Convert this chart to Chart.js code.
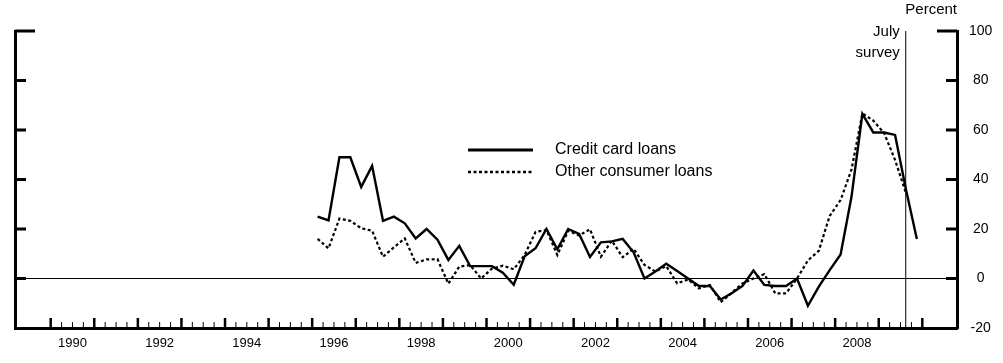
<!DOCTYPE html>
<html>
<head>
<meta charset="utf-8">
<script src="https://cdn.jsdelivr.net/npm/chart.js@4"></script>
<style>
  html, body { margin: 0; padding: 0; background: #fff; }
  canvas { display: block; }
</style>
</head>
<body>
<canvas id="loanChart" width="1003" height="363"></canvas>
<script>
// Survey results, quarterly from 1996:Q1 to 2009:Q4 (percent)
const years = [1996, 1997, 1998, 1999, 2000, 2001, 2002, 2003, 2004, 2005, 2006, 2007, 2008, 2009];

const creditCard = [
    25, 23.5, 49, 49,
    37, 45.5, 23.3, 25,
    22.3, 16.2, 20, 15.7,
    7.5, 13.2, 5, 5,
    5, 2.3, -2.5, 9,
    12.2, 20, 11.8, 20,
    18, 8.7, 14.6, 15,
    16, 10.6, 0, 2.8,
    6, 3, 0, -3,
    -3, -8.5, -6, -3,
    3.2, -2.6, -3, -3,
    0, -11, -3.3, 3.4,
    9.7, 33, 66.5, 59,
    59, 58, 36, 16
];

const otherConsumer = [
    16, 12.2, 24.2, 23.3,
    20.3, 19.3, 8.8, 12.6,
    16.2, 6.3, 7.7, 7.8,
    -2.1, 4.8, 5.4, 0,
    4, 5.2, 3.7, 9.5,
    18.8, 19.6, 9.5, 19.3,
    17.4, 19.9, 8.8, 15.3,
    8.6, 12, 5.5, 2.8,
    5, -2, -0.4, -4,
    -2.6, -9.6, -5.8, -2,
    0, 1.8, -6, -6,
    0, 7.3, 11.2, 25.3,
    31.7, 44, 66.7, 63.8,
    58.7, 47.9, 34.5, null
];

const xLabelYears = [1990, 1992, 1994, 1996, 1998, 2000, 2002, 2004, 2006, 2008];
const yTicks = [-20, 0, 20, 40, 60, 80, 100];
const surveyDate = 2009.62;
const surveyLabel = ['July', 'survey'];
const unitLabel = 'Percent';
const legendNames = ['Credit card loans', 'Other consumer loans'];

const FONT = '"Liberation Sans", Arial, Helvetica, sans-serif';

// quarter midpoints on a year axis
const quarterPos = years.flatMap(y => [1, 2, 3, 4].map(q => y + (q - 0.5) / 4));
const toPoints = vals => vals.map((v, i) => ({ x: quarterPos[i], y: v }));

// inward tick marks on all three axes
const axisMarks = {
    id: 'axisMarks',
    afterDatasetsDraw(chart) {
        const { ctx, chartArea, scales } = chart;
        const x = scales.x, y = scales.y;
        ctx.save();
        ctx.strokeStyle = '#000';
        ctx.lineCap = 'butt';

        // left and right value ticks
        ctx.lineWidth = 3;
        yTicks.forEach(v => {
            if (v === yTicks[0]) return;
            const py = y.getPixelForValue(v);
            const len = v === yTicks[yTicks.length - 1] ? 20 : 11;
            ctx.beginPath();
            ctx.moveTo(chartArea.left, py);
            ctx.lineTo(chartArea.left + len, py);
            ctx.moveTo(chartArea.right, py);
            ctx.lineTo(chartArea.right - len, py);
            ctx.stroke();
        });

        // year and quarter ticks on the time axis
        for (let yr = xLabelYears[0]; yr <= 2010; yr++) {
            for (let q = 0; q < 4; q++) {
                if (yr === 2010 && q > 0) break;
                const px = x.getPixelForValue(yr + q / 4);
                const major = q === 0;
                ctx.lineWidth = major ? 2.5 : 1;
                ctx.beginPath();
                ctx.moveTo(px, chartArea.bottom);
                ctx.lineTo(px, chartArea.bottom - (major ? 10 : 6));
                ctx.stroke();
            }
        }
        ctx.restore();
    }
};

// notes and legend
const notes = {
    id: 'notes',
    afterDraw(chart) {
        const { ctx, chartArea, scales } = chart;
        ctx.save();
        ctx.fillStyle = '#000';
        ctx.textBaseline = 'middle';

        ctx.font = '15px ' + FONT;
        ctx.textAlign = 'right';
        ctx.fillText(unitLabel, chartArea.right, 10);

        const sx = scales.x.getPixelForValue(surveyDate);
        ctx.fillText(surveyLabel[0], sx - 6, chartArea.top + 1);
        ctx.fillText(surveyLabel[1], sx - 6, chartArea.top + 22);

        // legend
        ctx.font = '16px ' + FONT;
        ctx.textAlign = 'left';
        const rows = [150, 172];
        chart.data.datasets.slice(0, 2).forEach((ds, i) => {
            ctx.strokeStyle = ds.borderColor;
            ctx.lineWidth = ds.borderWidth + 0.5;
            ctx.setLineDash(ds.borderDash || []);
            ctx.beginPath();
            ctx.moveTo(468, rows[i]);
            ctx.lineTo(533, rows[i]);
            ctx.stroke();
            ctx.setLineDash([]);
            ctx.fillText(legendNames[i], 555, rows[i]);
        });
        ctx.restore();
    }
};

new Chart(document.getElementById('loanChart'), {
    type: 'line',
    data: {
        datasets: [
            {
                label: legendNames[0],
                data: toPoints(creditCard),
                borderColor: '#000',
                borderWidth: 2.4,
                pointRadius: 0,
                tension: 0,
                yAxisID: 'y'
            },
            {
                label: legendNames[1],
                data: toPoints(otherConsumer),
                borderColor: '#000',
                borderWidth: 2.2,
                borderDash: [3, 2.5],
                pointRadius: 0,
                tension: 0,
                yAxisID: 'y'
            },
            {
                label: 'survey',
                data: [{ x: surveyDate, y: yTicks[0] }, { x: surveyDate, y: yTicks[yTicks.length - 1] }],
                borderColor: '#000',
                borderWidth: 1,
                pointRadius: 0,
                yAxisID: 'y'
            }
        ]
    },
    options: {
        responsive: false,
        animation: false,
        devicePixelRatio: 1,
        layout: { padding: { top: 31, left: 0, right: 0, bottom: 0 } },
        plugins: {
            legend: { display: false },
            tooltip: { enabled: false }
        },
        scales: {
            x: {
                type: 'linear',
                position: 'bottom',
                min: 1989.181,
                max: 2010.796,
                grid: { display: false },
                border: { display: true, color: '#000', width: 3 },
                afterBuildTicks: scale => {
                    scale.ticks = xLabelYears.map(yr => ({ value: yr + 0.5 }));
                },
                afterFit: scale => { scale.height = 35; },
                ticks: {
                    autoSkip: false,
                    maxRotation: 0,
                    padding: 0,
                    color: '#000',
                    font: { family: FONT, size: 13 },
                    callback: v => String(Math.floor(v))
                }
            },
            y: {
                type: 'linear',
                position: 'right',
                min: -20,
                max: 100,
                afterFit: scale => { scale.width = 46; },
                grid: {
                    drawTicks: false,
                    lineWidth: 1,
                    color: c => (c.tick && c.tick.value === 0 ? '#000' : 'rgba(0,0,0,0)')
                },
                border: { display: true, color: '#000', width: 3 },
                ticks: {
                    stepSize: 20,
                    padding: 12,
                    crossAlign: 'center',
                    color: '#000',
                    font: { family: FONT, size: 14 }
                }
            },
            yLeft: {
                type: 'linear',
                position: 'left',
                min: -20,
                max: 100,
                afterFit: scale => { scale.width = 15; },
                grid: { display: false },
                border: { display: true, color: '#000', width: 3 },
                ticks: { display: false }
            }
        }
    },
    plugins: [axisMarks, notes]
});
</script>
</body>
</html>
